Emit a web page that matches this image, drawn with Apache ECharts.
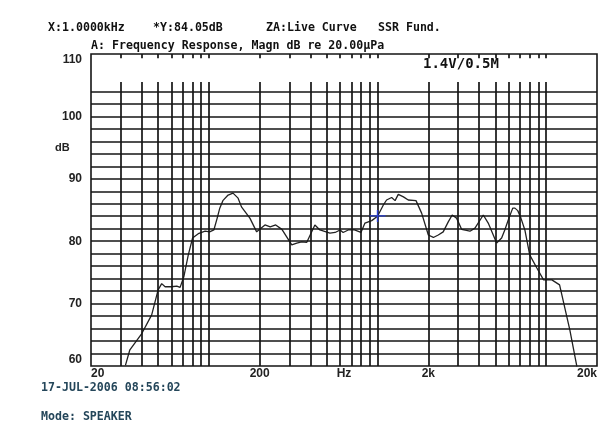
<!DOCTYPE html>
<html>
<head>
<meta charset="utf-8">
<script src="https://cdn.jsdelivr.net/npm/echarts@6/dist/echarts.min.js"></script>
<style>
html,body{margin:0;padding:0;background:#fff;}
#chart{width:615px;height:443px;}
</style>
</head>
<body>
<div id="chart"></div>
<script>
// ---- data ----
const freqHz = [32, 34, 40, 45.8, 50, 52.5, 55, 60, 64.5, 67.5, 71, 75.5, 80, 86.5, 95, 101, 107, 112, 116, 121, 130, 139, 149, 156, 175, 192, 215, 231, 249, 271, 310, 332, 355, 380, 425, 455, 522, 560, 600, 625, 670, 730, 797, 842, 923, 1000, 1082, 1131, 1212, 1270, 1327, 1424, 1520, 1690, 1825, 2000, 2142, 2290, 2450, 2625, 2770, 2940, 3150, 3530, 3780, 4235, 4530, 5080, 5440, 5680, 5955, 6330, 6520, 6780, 7080, 7470, 7980, 8800, 9640, 10800, 12000, 13800, 15200];
const levelDb = [60.1, 62.6, 65.2, 68.2, 72.2, 73.2, 72.7, 72.7, 72.8, 72.6, 74.3, 77.8, 80.5, 81.2, 81.6, 81.5, 81.8, 83.7, 85.3, 86.5, 87.4, 87.7, 86.9, 85.5, 83.7, 81.5, 82.6, 82.3, 82.6, 81.9, 79.4, 79.7, 79.9, 79.8, 82.6, 81.8, 81.3, 81.4, 81.8, 81.4, 81.8, 81.8, 81.4, 82.9, 83.3, 84.0, 85.8, 86.6, 87.0, 86.5, 87.5, 87.1, 86.6, 86.5, 84.5, 81.0, 80.6, 81.0, 81.5, 83.1, 84.2, 83.7, 81.9, 81.6, 82.1, 84.2, 82.9, 79.7, 80.5, 81.8, 83.4, 85.3, 85.3, 84.9, 83.7, 81.8, 77.8, 75.7, 73.8, 73.8, 73.0, 65.8, 59.9];

const vGridFreqs = [30, 40, 50, 60, 70, 80, 90, 100, 200, 300, 400, 500, 600, 700, 800, 900, 1000, 2000, 3000, 4000, 5000, 6000, 7000, 8000, 9000, 10000];
const hGridDb = [62, 64, 66, 68, 70, 72, 74, 76, 78, 80, 82, 84, 86, 88, 90, 92, 94, 96, 98, 100, 102, 104];
const xLabelFreqs = [20, 200, 632, 2000, 20000];
const xLabelTexts = ['20', '200', 'Hz', '2k', '20k'];
const cursorPoint = [1000, 84.05];

const X_MIN = 20, X_MAX = 20000, Y_MIN = 60, Y_MAX = 110;
const GRID_TOP_DB = 105.5, TICK_DB = 109.3;

const chart = echarts.init(document.getElementById('chart'), null, {renderer: 'canvas'});

const gridColor = '#151515';
const vLines = vGridFreqs.map(f => [{coord: [f, Y_MIN]}, {coord: [f, GRID_TOP_DB]}]);
const topTicks = vGridFreqs.map(f => [{coord: [f, TICK_DB]}, {coord: [f, 109.99]}]);
const hLines = hGridDb.map(d => ({yAxis: d}));

const monoFont = '"DejaVu Sans Mono", "Liberation Mono", monospace';
const sansFont = '"Liberation Sans", Arial, sans-serif';

function txt(text, left, top, opts) {
  return {
    type: 'text', left: left, top: top,
    style: Object.assign({text: text, fill: '#111', font: 'bold 11.6px ' + monoFont}, opts || {})
  };
}

const option = {
  animation: false,
  backgroundColor: '#fff',
  grid: {left: 91, top: 54, width: 506, height: 312, show: true, borderColor: gridColor, borderWidth: 1.6, backgroundColor: 'transparent'},
  xAxis: [{
    type: 'log', logBase: 10, min: X_MIN, max: X_MAX,
    axisLine: {show: false}, axisTick: {show: false}, axisLabel: {show: false}, splitLine: {show: false}
  }, {
    type: 'value', min: 0, max: 3, interval: 0.5, position: 'bottom',
    axisLine: {show: false}, axisTick: {show: false}, splitLine: {show: false},
    axisLabel: {
      margin: 2, color: '#222', fontWeight: 'bold', fontSize: 12, fontFamily: sansFont,
      alignMinLabel: 'left', alignMaxLabel: 'right',
      formatter: function (v) {
        for (let i = 0; i < xLabelFreqs.length; i++) {
          if (Math.abs(Math.log10(xLabelFreqs[i] / X_MIN) - v) < 0.02) return xLabelTexts[i];
        }
        return '';
      }
    }
  }],
  yAxis: {
    type: 'value', min: Y_MIN, max: Y_MAX, interval: 10,
    axisLine: {show: false}, axisTick: {show: false}, splitLine: {show: false},
    axisLabel: {
      margin: 9, color: '#222', fontWeight: 'bold', fontSize: 12, fontFamily: sansFont,
      verticalAlignMaxLabel: 'top', verticalAlignMinLabel: 'bottom'
    }
  },
  series: [{
    name: 'grid', type: 'line', data: [], z: 1, silent: true,
    markLine: {
      silent: true, symbol: ['none', 'none'], animation: false,
      label: {show: false},
      lineStyle: {color: gridColor, width: 1.7, type: 'solid'},
      emphasis: {disabled: true},
      data: hLines.concat(vLines).concat(topTicks)
    }
  }, {
    name: 'Response', type: 'line', z: 3,
    data: freqHz.map((f, i) => [f, levelDb[i]]),
    showSymbol: false, clip: true,
    lineStyle: {color: '#222', width: 1.3},
    markPoint: {
      silent: true,
      symbol: 'path://M0,6 L16,6 M8,0 L8,12',
      symbolSize: [16, 12],
      itemStyle: {color: 'none', borderColor: '#2a3fd0', borderWidth: 1.3},
      label: {show: false},
      data: [{coord: cursorPoint}]
    }
  }],
  graphic: [
    txt('X:1.0000kHz', 48, 22),
    txt('*Y:84.05dB', 153, 22),
    txt('ZA:Live Curve', 266, 22),
    txt('SSR Fund.', 378, 22),
    txt('A: Frequency Response, Magn dB re 20.00\u03bcPa', 91, 40),
    {type: 'text', left: 423, top: 57, style: {text: '1.4V/0.5M', fill: '#111', font: 'bold 14px ' + monoFont}},
    {type: 'text', left: 55, top: 142, style: {text: 'dB', fill: '#222', font: 'bold 11px ' + sansFont}},
    txt('17-JUL-2006 08:56:02', 41, 382, {fill: '#24465a'}),
    txt('Mode: SPEAKER', 41, 411, {fill: '#24465a'})
  ]
};
chart.setOption(option);
</script>
</body>
</html>
